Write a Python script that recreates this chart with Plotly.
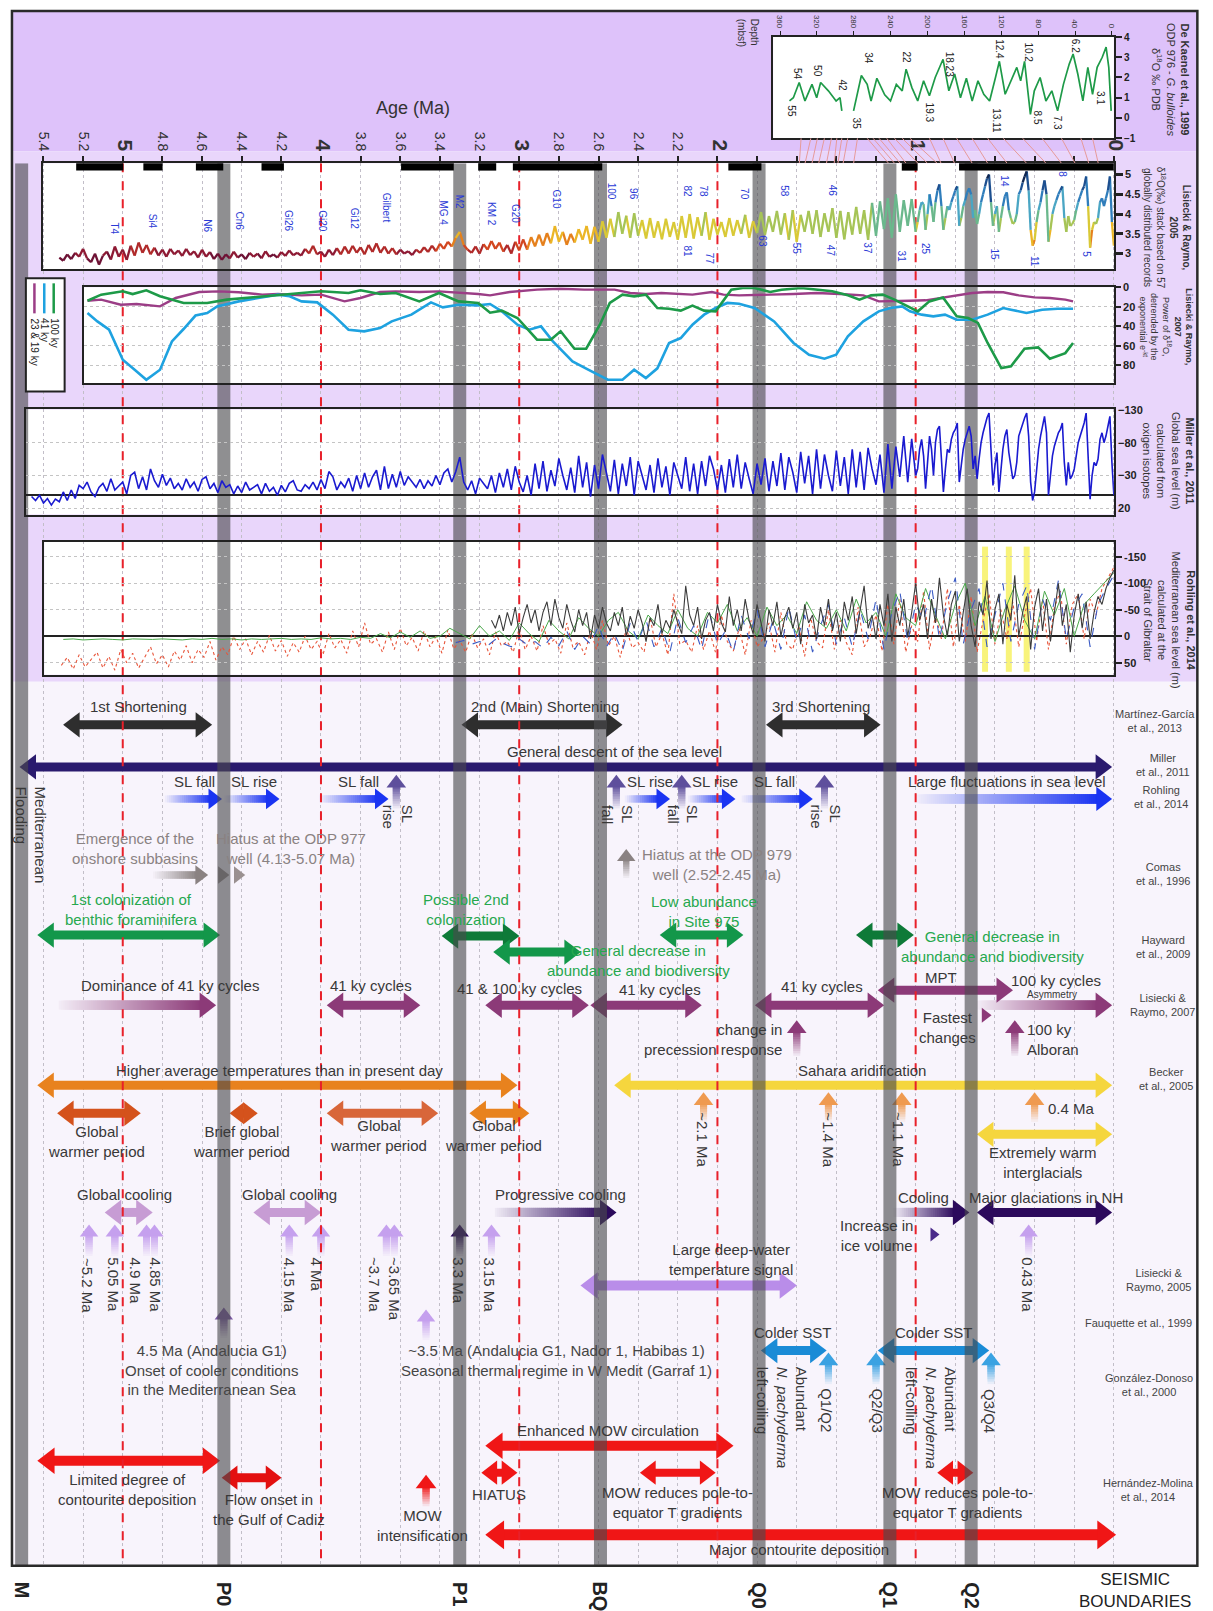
import numpy as np
import plotly.graph_objects as go

W, H = 1213, 1611
FONT = "Liberation Sans, Arial, Helvetica, sans-serif"
TXT = "#383838"

# ============================ DATA ============================
age_tick_values = [5.4, 5.2, 5.0, 4.8, 4.6, 4.4, 4.2, 4.0, 3.8, 3.6, 3.4, 3.2, 3.0,
                   2.8, 2.6, 2.4, 2.2, 2.0, 1.8, 1.6, 1.4, 1.2, 1.0, 0.8, 0.6, 0.4, 0.2, 0.0]
age_tick_labels = ["5.4", "5.2", "5", "4.8", "4.6", "4.4", "4.2", "4", "3.8", "3.6", "3.4", "3.2", "3",
                   "2.8", "2.6", "2.4", "2.2", "2", "", "", "", "", "1", "", "", "", "", "0"]
integer_ages = [5, 4, 3, 2, 1]

seismic_names = ["M", "P0", "P1", "BQD", "Q0", "Q1", "Q2"]
seismic_ages = [5.51, 4.49, 3.30, 2.59, 1.79, 1.13, 0.72]

normal_chron_start = [5.235, 4.896, 4.631, 4.300, 3.596, 3.207, 3.032, 1.945, 1.070, 0.781]
normal_chron_end = [4.997, 4.799, 4.493, 4.187, 3.330, 3.116, 2.581, 1.778, 0.990, 0.000]

# LR04 benthic d18O stack (permil)
lr04_age_a = np.arange(5.32, 0.999, -0.02)
lr04_val_a = [
    2.90, 2.82, 2.98, 2.86, 3.02, 2.92, 3.12, 2.88, 2.78, 3.00,
    2.72, 2.95, 3.05, 2.85, 3.18, 2.92, 3.10, 2.84, 3.20, 2.95,
    3.28, 3.02, 3.22, 2.98, 3.15, 2.95, 3.10, 2.92, 3.12, 2.98,
    3.08, 2.94, 3.12, 2.96, 3.06, 2.90, 3.10, 2.92, 3.04, 2.86,
    3.00, 2.84, 2.98, 2.88, 3.05, 2.90, 2.98, 2.86, 3.02, 2.92,
    3.00, 2.88, 3.06, 2.92, 2.98, 2.90, 3.04, 2.94, 3.08, 2.96,
    3.02, 2.95, 3.12, 3.00, 3.20, 2.98, 3.05, 2.92, 3.10, 2.96,
    3.14, 2.98, 3.18, 3.00, 3.20, 3.02, 3.16, 2.98, 3.22, 3.04,
    3.26, 3.02, 3.18, 3.00, 3.14, 2.98, 3.10, 3.00, 3.06, 2.96,
    3.10, 3.02, 3.16, 3.04, 3.20, 3.06, 3.25, 3.12, 3.30, 3.18,
    3.40, 3.55, 3.22, 3.10, 3.02, 3.18, 3.00, 3.24, 3.10, 3.32,
    3.12, 3.28, 3.05, 3.22, 3.00, 3.30, 3.08, 3.36, 3.10, 3.42,
    3.18, 3.48, 3.20, 3.52, 3.26, 3.70, 3.30, 3.55, 3.22, 3.50,
    3.28, 3.62, 3.35, 3.70, 3.25, 3.68, 3.30, 3.82, 3.40, 3.88,
    3.42, 4.05, 3.50, 3.96, 3.40, 4.02, 3.45, 3.85, 3.38, 3.90,
    3.40, 3.82, 3.36, 3.88, 3.42, 3.80, 3.35, 3.95, 3.40, 4.00,
    3.38, 3.92, 3.45, 4.05, 3.35, 3.88, 3.48, 3.80, 3.42, 3.90,
    3.45, 3.85, 3.50, 3.98, 3.40, 3.82, 3.52, 4.05, 3.48, 3.95,
    3.55, 4.08, 3.48, 4.02, 3.35, 4.10, 3.30, 3.98, 3.55, 4.08,
    3.50, 4.10, 3.42, 4.02, 3.55, 4.15, 3.40, 4.08, 3.36, 4.05,
    3.48, 4.18, 3.50, 4.10, 3.35, 4.28, 3.45, 4.32, 3.62, 4.40,
    3.40, 4.50, 3.55, 4.35, 3.70, 4.38, 3.55]
lr04_age_b = np.arange(0.99, -0.001, -0.01)
lr04_val_b = [
    3.80, 4.10, 4.30, 4.25, 3.60, 4.00, 4.50, 4.20, 3.80, 4.30,
    4.60, 4.75, 4.20, 3.60, 3.90, 4.20, 4.10, 4.30, 4.45, 4.60,
    4.70, 3.70, 3.90, 4.20, 4.35, 4.55, 4.65, 4.50, 3.90, 4.10,
    3.75, 4.00, 4.30, 4.50, 4.70, 4.90, 5.00, 4.30, 3.70, 4.00,
    4.20, 3.55, 3.90, 4.20, 4.45, 4.55, 4.10, 3.90, 3.75, 3.80,
    4.00, 4.50, 4.60, 4.80, 4.95, 5.08, 4.60, 3.60, 3.20, 3.35,
    3.80, 4.10, 4.30, 4.60, 4.85, 4.50, 3.30, 3.60, 4.00, 4.20,
    4.35, 4.50, 4.60, 4.70, 3.90, 3.55, 3.95, 3.70, 3.75, 3.85,
    4.10, 4.30, 4.45, 4.60, 4.70, 4.95, 4.20, 3.15, 3.60, 3.80,
    3.75, 3.90, 4.30, 4.40, 4.20, 4.40, 4.60, 4.95, 3.80, 3.20]

lr04_mis_text = ["T4", "Si4", "N6", "Cn6", "Gi26", "Gi20", "Gi12", "Gilbert", "MG 4", "M2", "KM 2", "G20", "G10",
                 "100", "96", "82", "78", "70", "58", "46", "14", "8",
                 "81", "77", "63", "55", "47", "37", "31", "25", "15", "11", "5"]
lr04_mis_age = [5.04, 4.85, 4.57, 4.41, 4.16, 3.99, 3.83, 3.67, 3.38, 3.30, 3.14, 3.02, 2.81,
                2.53, 2.42, 2.15, 2.07, 1.86, 1.66, 1.42, 0.55, 0.26,
                2.15, 2.04, 1.77, 1.60, 1.43, 1.245, 1.07, 0.95, 0.60, 0.40, 0.14]
lr04_mis_val = [3.64, 3.82, 3.69, 3.82, 3.82, 3.82, 3.89, 4.15, 4.02, 4.32, 3.99, 4.02, 4.37,
                4.58, 4.50, 4.58, 4.58, 4.50, 4.58, 4.58, 4.83, 5.00,
                3.06, 2.88, 3.31, 3.13, 3.06, 3.13, 2.93, 3.13, 2.98, 2.80, 2.98]

# Lisiecki & Raymo 2007 - spectral power
lr07_100_age = [5.178, 5.109, 5.000, 4.950, 4.881, 4.812, 4.693, 4.574, 4.475, 4.217,
                3.999, 3.861, 3.801, 3.702, 3.623, 3.504, 3.405, 3.306, 3.207, 3.147,
                3.088, 3.009, 2.910, 2.841, 2.791, 2.721, 2.662, 2.593, 2.543, 2.479,
                2.420, 2.361, 2.303, 2.244, 2.185, 2.126, 2.067, 2.009, 1.930, 1.872,
                1.813, 1.734, 1.676, 1.578, 1.499, 1.421, 1.342, 1.284, 1.225, 1.166,
                1.107, 1.049, 0.989, 0.931, 0.862, 0.793, 0.735, 0.686, 0.637, 0.568,
                0.519, 0.451, 0.382, 0.323, 0.245, 0.206]
lr07_100_val = [13.7, 7.5, 4.0, 6.9, 3.0, 9.2, 16.0, 16.0, 12.6, 8.2,
                4.0, 5.8, 3.0, 6.9, 5.8, 14.4, 5.8, 14.4, 16.0, 26.0,
                23.9, 31.4, 53.7, 53.7, 45.0, 62.9, 62.9, 38.3, 16.0, 7.5,
                9.2, 7.5, 21.2, 21.9, 23.9, 18.8, 23.9, 24.6, 2.4, 0.7,
                0.7, 4.8, 2.4, 0.7, 2.4, 4.0, 8.2, 12.6, 8.2, 7.5,
                12.6, 18.8, 24.6, 14.4, 10.3, 29.7, 31.4, 36.5, 57.0, 82.7,
                81.0, 62.9, 61.5, 73.2, 67.4, 57.0]
lr07_41_age = [5.178, 5.128, 5.069, 5.000, 4.940, 4.881, 4.812, 4.752, 4.693, 4.633,
               4.574, 4.524, 4.415, 4.316, 4.217, 4.158, 4.098, 4.019, 3.940, 3.861,
               3.782, 3.702, 3.643, 3.544, 3.445, 3.385, 3.306, 3.207, 3.147, 3.088,
               3.009, 2.949, 2.890, 2.830, 2.731, 2.652, 2.553, 2.479, 2.420, 2.361,
               2.303, 2.244, 2.185, 2.126, 2.067, 2.009, 1.950, 1.891, 1.813, 1.714,
               1.616, 1.538, 1.460, 1.401, 1.342, 1.264, 1.186, 1.127, 1.068, 1.029,
               0.970, 0.911, 0.852, 0.793, 0.715, 0.637, 0.558, 0.519, 0.441, 0.362,
               0.284, 0.206]
lr07_41_val = [26.3, 34.9, 43.4, 74.2, 84.4, 94.7, 84.4, 55.4, 42.7, 28.9,
               26.3, 19.5, 14.4, 10.9, 7.5, 9.2, 14.4, 15.4, 28.0, 43.4,
               45.1, 41.7, 34.9, 28.0, 15.4, 20.5, 17.8, 18.5, 17.1, 24.6,
               38.3, 43.4, 40.0, 55.4, 75.9, 84.4, 94.7, 94.7, 84.4, 93.0,
               83.0, 57.0, 52.0, 38.3, 28.0, 21.2, 16.0, 16.8, 21.2, 34.9,
               57.0, 69.1, 73.2, 69.1, 50.3, 34.9, 24.6, 21.2, 19.5, 24.6,
               28.0, 29.7, 28.0, 33.2, 33.2, 28.0, 21.2, 22.9, 26.3, 22.9,
               21.9, 21.9]
lr07_23_age = [5.178, 5.109, 5.010, 4.930, 4.812, 4.733, 4.614, 4.515, 4.415, 4.296,
               4.217, 4.098, 3.999, 3.881, 3.801, 3.702, 3.623, 3.504, 3.405, 3.306,
               3.207, 3.147, 3.048, 2.910, 2.791, 2.672, 2.597, 2.519, 2.440, 2.361,
               2.283, 2.205, 2.126, 2.028, 1.970, 1.891, 1.813, 1.734, 1.616, 1.499,
               1.381, 1.264, 1.186, 1.107, 1.029, 0.950, 0.872, 0.793, 0.715, 0.637,
               0.558, 0.480, 0.401, 0.323, 0.245, 0.206]
lr07_23_val = [13.7, 12.6, 17.8, 17.1, 19.5, 10.9, 4.8, 4.1, 5.1, 7.5,
               6.8, 8.2, 7.5, 14.4, 10.9, 4.8, 4.1, 4.8, 4.1, 5.1,
               6.8, 8.2, 4.8, 2.4, 1.4, 2.4, 2.4, 2.4, 5.8, 6.8,
               5.8, 6.8, 7.5, 4.8, 7.5, 8.2, 8.2, 7.5, 6.8, 5.8,
               6.8, 8.2, 14.4, 14.4, 13.7, 13.3, 10.9, 8.2, 5.8, 4.8,
               5.1, 8.2, 10.3, 10.9, 12.6, 14.4]

# Miller et al. 2011 global sea level (m)
miller_age_a = np.arange(5.46, 0.999, -0.02)
miller_val_a = [
    2, 8, 0, 12, 5, 15, 6, 10, -5, 8,
    -8, 5, -15, -10, -20, -5, 2, -12, -18, -6,
    -25, -8, -14, -20, -2, -30, -35, -10, -28, -8,
    -40, -22, -12, -32, -15, -26, -10, -18, -8, -25,
    -12, -20, -6, -24, -28, -10, -18, -4, -22, -12,
    -16, -2, -14, -4, -20, -8, -12, -16, -2, -18,
    -6, -12, 0, -15, -5, -18, -22, -8, -6, -16,
    -10, -20, -8, -24, -10, -36, -28, -8, -20, -12,
    -26, -6, -30, -10, -34, -12, -28, -38, -8, -44,
    -10, -32, -12, -36, -15, -28, -20, -12, -24, -10,
    -22, -14, -30, -16, -34, -40, -20, -36, -58, -20,
    -8, -22, -2, -26, -18, -10, -30, -4, -34, -12,
    -40, -8, -44, -20, -5, -30, 0, -48, -10, -52,
    -6, -38, -14, -56, -30, -8, -42, -4, -60, -12,
    -50, 2, -46, -10, -62, -35, -6, -54, -2, -48,
    -14, -58, 0, -52, -28, -8, -46, -4, -56, -12,
    -44, 0, -50, -30, -10, -58, -6, -48, -2, -52,
    -14, -60, -40, -8, -46, -4, -55, -12, -62, -10,
    -50, -25, -2, -48, -16, -56, -6, -52, -14, -64,
    -8, -58, -35, -4, -66, -18, -60, -2, -70, -10,
    -62, -30, -6, -68, -14, -58, -2, -70, -12, -66,
    -8, -72, -40, -16, -62, -4, -78, -10, -74, -28,
    -90, -20, -86, -30]
miller_age_b = np.arange(0.99, -0.001, -0.01)
miller_val_b = [
    -40, -70, -85, -60, -10, -50, -90, -70, -30, -80,
    -100, -105, -60, -5, -40, -70, -65, -85, -95, -100,
    -110, -20, -45, -70, -85, -95, -105, -90, -40, -60,
    -25, -55, -80, -95, -108, -118, -125, -70, -15, -45,
    -65, -5, -40, -70, -90, -100, -65, -45, -25, -30,
    -50, -90, -100, -110, -118, -125, -90, -20, 8, -5,
    -45, -70, -90, -108, -120, -95, 0, -30, -60, -75,
    -85, -95, -100, -110, -50, -15, -50, -25, -30, -40,
    -60, -80, -90, -100, -110, -125, -60, 6, -30, -50,
    -45, -55, -85, -95, -80, -90, -105, -120, -50, 0]

# Rohling et al. 2014 Mediterranean sea level (m)
roh_red_age = np.arange(5.31, -0.001, -0.03)
roh_red_val = [
    55, 40, 62, 35, 58, 45, 30, 60, 38, 64,
    25, 50, 32, 60, 40, 20, 52, 35, 58, 28,
    45, 18, 50, 25, 40, 10, 45, 20, 35, 0,
    25, 5, 35, 10, 30, -2, 28, 8, 38, 12,
    30, 0, 25, 10, 35, -5, 22, 6, 32, -10,
    20, -25, 15, 5, 30, -8, 25, -15, 18, 2,
    28, -10, 20, 0, 32, -12, 24, 8, 30, -5,
    22, 5, 35, -8, 18, 10, 30, -15, 25, 0,
    28, -20, 15, 5, 32, -25, 20, 10, 35, -10,
    25, -30, 18, 0, 40, -15, 22, 12, 30, -35,
    20, -5, 35, -80, 15, 8, 30, -20, 25, -10,
    30, -40, 10, 28, -15, 35, -30, 20, 5, -25,
    30, -45, 15, 25, -20, 38, -35, 10, 22, -50,
    25, -30, 12, 35, -55, 20, 0, -40, 28, -60,
    15, -70, 30, -20, 10, -85, 25, -40, 5, -90,
    20, -60, 10, -75, 30, -30, -80, 15, -50, 5,
    -65, 20, -40, -90, 10, -70, 25, -55, -85, 15,
    -60, -80, 5, -70, -40, -90, -110, -130]
roh_black_age = np.arange(3.14, -0.001, -0.02)
roh_black_val = [
    -30, -15, -40, -10, -45, -20, -55, -5, -35, -60,
    -25, -50, -10, -45, -65, -20, -70, -35, -15, -60,
    -30, -8, -50, -20, -45, 5, -40, -15, -55, -25,
    -10, -45, -20, -55, 0, -38, -15, -50, -25, 10,
    -35, -20, -60, -5, -30, -15, -50, -25, -5, -95,
    -40, -20, -55, 5, -30, -45, -10, -60, -25, -8,
    -75, -20, -50, -10, -70, -30, -5, -60, -25, 10,
    -50, -20, -65, 0, -35, -55, -15, -45, 15, -60,
    -25, -40, 5, -55, -20, -70, -10, -45, 10, -65,
    -30, -75, -5, -50, -95, -15, -40, 5, -60, -20,
    -80, 10, -55, -20, -70, 0, -45, -100, -30, -60,
    5, -70, -25, -110, -40, 0, -60, -85, 10, -45,
    -90, -20, 20, -65, -40, -105, 5, -50, -80, 15,
    -60, -30, -115, 0, -45, -75, 25, -55, -90, -10,
    -70, 10, -50, -100, -20, -60, 30, -40, -80, -15,
    -65, 5, -45, -75, -60, -90, -110, -125]
roh_blue_age = np.arange(3.32, -0.001, -0.04)
roh_blue_val = [
    12, 8, 15, 10, 18, 6, 14, 20, 5, 16,
    10, 22, 2, 18, -10, 25, 0, 15, -20, 20,
    -5, 28, -25, 10, -30, 20, -15, 30, -35, 12,
    -20, 25, -45, 15, -10, 30, -40, 5, -50, 20,
    -30, 25, -55, 10, -40, 30, -20, -60, 15, -35,
    20, -50, 5, -70, 25, -45, -85, 10, -60, -30,
    -95, 5, -65, -110, 15, -50, -90, 20, -40, -100,
    10, -60, -95, 25, -70, -30, -105, 5, -55, -80,
    20, -60, -90, -115]
roh_green_age = np.arange(5.30, -0.001, -0.05)
roh_green_val = [
    6, 5, 7, 6, 5, 6, 7, 5, 6, 6,
    5, 6, 7, 5, 6, 4, 6, 5, 7, 5,
    6, 5, 4, 6, 5, 6, 3, 5, 4, 6,
    2, 4, -5, 3, -8, 2, -10, 4, 0, -15,
    -5, 5, -20, 0, -10, 8, -25, -5, 10, -30,
    -10, 5, -35, -15, 0, -30, -45, -10, 5, -40,
    -20, -5, -50, -15, 0, -45, -25, -60, -10, -35,
    0, -55, -20, -40, -5, -65, -30, -15, -50, -10,
    -70, -25, -45, 0, -80, -35, -20, -90, -40, 5,
    -60, -100, -20, -75, 10, -50, -95, -30, 5, -85,
    -40, -90, 0, -60, -80, -100, -120]
roh_glacial_ages = [0.65, 0.53, 0.44]

# De Kaenel et al. 1999, ODP 976 G. bulloides d18O vs depth (mbsf)
dk_depth = [349.8, 345.6, 339.3, 333.0, 325.4, 320.3, 316.0, 307.6, 299.2, 295.0,
            293.0, None, 280.3, 271.8, 265.5, 261.3, 255.0, 246.5, 240.2, 233.9,
            227.5, 223.3, 217.0, 210.7, 204.3, 198.0, 191.7, 183.2, 176.9, 170.6,
            164.3, 157.9, 151.6, 145.3, 139.0, 132.7, 126.3, 122.1, 115.8, 109.5,
            103.2, 99.0, 94.8, 88.4, 84.2, 77.9, 71.6, 65.2, 58.9, 52.6,
            46.3, 42.1, 37.0, 31.5, 26.1, 21.0, 16.0, 10.5, 6.3, 3.4, 0.8]
dk_val = [0.84, 1.0, 1.75, 0.84, 1.66, 1.0, 1.75, 1.34, 0.84, 1.0,
          0.35, None, 0.35, 2.1, 1.66, 0.84, 1.96, 1.14, 0.84, 1.66,
          1.34, 2.41, 1.5, 0.84, 1.84, 1.1, 2.0, 2.9, 1.34, 2.17,
          1.0, 1.96, 0.84, 1.84, 1.17, 0.84, 2.0, 2.8, 1.17, 1.84,
          2.5, 1.84, 2.8, 0.18, 1.34, 2.0, 0.84, 1.34, 0.35, 1.66,
          2.66, 3.16, 2.17, 0.84, 2.5, 1.17, 2.5, 3.0, 3.5, 2.5, 0.35]
dk_label_text = ["54", "55", "50", "42", "35", "34", "22", "19.3", "18.23", "13.11", "12.4", "10.2", "8.5", "7.3", "6.2", "3.1"]
dk_label_depth = [341.7, 347.6, 319.2, 292.3, 277.2, 265.0, 222.9, 198.1, 176.5, 126.1, 121.8, 90.6, 80.9, 59.3, 39.9, 12.9]
dk_label_val = [2.18, 0.35, 2.33, 1.58, -0.30, 2.97, 2.97, 0.25, 2.67, -0.15, 3.42, 3.22, 0.0, -0.25, 3.56, 0.99]
tie_depth = [337.2, 326.6, 319.5, 311.9, 304.3, 298.4, 293.0, 286.6, 276.0, 265.6, 259.2, 252.8, 244.4, 236.0,
             227.6, 219.2, 198.0, 183.3, 168.5, 151.7, 134.9, 118.0, 96.9, 75.8, 54.8, 33.7, 21.0]
tie_age = [1.587, 1.558, 1.523, 1.489, 1.450, 1.411, 1.392, 1.366, 1.313, 1.137, 1.107, 1.078, 1.049, 0.989,
           0.941, 0.892, 0.872, 0.804, 0.715, 0.637, 0.539, 0.441, 0.343, 0.265, 0.196, 0.127, 0.079]

# ---- Events (ages in Ma: older, younger) ----
shortening = [(5.30, 4.55), (3.29, 2.48), (1.754, 1.178)]
shortening_text = ["1st Shortening", "2nd (Main) Shortening", "3rd Shortening"]
sea_descent = (5.52, 0.01)
sl_arrows = [(4.77, 4.50), (4.47, 4.21), (3.99, 3.66), (2.45, 2.24), (2.13, 1.91), (1.86, 1.52), (0.97, 0.01)]
sl_text = ["SL fall", "SL rise", "SL fall", "SL rise", "SL rise", "SL fall", "Large fluctuations in sea level"]
sl_points = [3.62, 2.51, 2.18, 1.46]
sl_point_text = ["SL<br>rise", "SL<br>fall", "SL<br>fall", "SL<br>rise"]
comas_emergence = (4.83, 4.57)
comas_hiatus977 = [4.50, 4.42]
comas_hiatus979 = 2.46
hayward_arrows = [(5.43, 4.51), (3.39, 3.00), (3.13, 2.69), (2.29, 1.87), (1.30, 1.01)]
lr07_cycle_arrows = [(3.97, 3.50), (3.17, 2.65), (2.64, 2.08), (1.81, 1.16)]
lr07_fade_arrows = [(5.30, 4.53), (0.67, 0.01)]
mpt = (1.19, 0.51)
lr07_points = [1.60, 0.50]
becker_warm = (5.43, 3.01)
becker_sahara = (2.52, 0.01)
becker_points = [2.07, 1.44, 1.07, 0.40]
warm_periods = [(5.33, 4.91), (4.46, 4.32), (3.97, 3.41), (3.25, 2.95)]
warm_interglacials = (0.69, 0.01)
global_cooling = [(5.09, 4.85), (4.34, 4.00)]
progressive_cooling = [(3.10, 2.51), (1.09, 0.73)]
major_glaciations = (0.69, 0.01)
cooling_points = [5.17, 5.04, 4.88, 4.84, 4.16, 4.00, 3.67, 3.63, 3.30, 3.14, 0.43]
deep_water = (2.69, 1.60)
fauquette_points = [4.49, 3.47]
colder_sst = [(1.78, 1.45), (1.19, 0.63)]
sst_points = [1.44, 1.20, 0.62]
mow_enhanced = (3.17, 1.92)
contourite_limited = (5.43, 4.51)
flow_onset = (4.50, 4.20)
mow_intensification = 3.47
hiatus = (3.19, 3.01)
mow_reduces = [(2.39, 2.01), (0.89, 0.71)]
major_contourite = (3.17, -0.01)

# ============================ GEOMETRY (layout) ============================
# Layout positions below are given in target-image pixels; SX/OX, SY/OY convert them to figure pixels.
SX, OX = 0.989, 4.0
SY, OY = 0.992, 5.0
PXMA_REF = 199.5        # target-image pixels per Ma
AGE_AT_PX0 = 5.604      # age at target-image x = 0
PXMA_FIG = PXMA_REF / SX


def px2age(px):
    return AGE_AT_PX0 - px / PXMA_REF


def PX(x):
    return ((x - OX) / SX) / W


def PY(y):
    return 1 - ((y - OY) / SY) / H


def xdom(x0, x1):
    return [max(PX(x0), 0.0), min(PX(x1), 1.0)]


def ydom(y0, y1):
    return [max(PY(y1), 0.0), min(PY(y0), 1.0)]


MASTER_XR = [px2age(OX), px2age(OX + SX * W)]
BOX_LR05 = (40, 162, 1118, 268)
BOX_LR07 = (81, 286, 1118, 382)
BOX_MIL = (23, 408, 1118, 513)
BOX_ROH = (41.5, 540, 1118, 673)
BOX_DK = (775, 36, 1118, 137)
MASTER_Y = (162, 1563)
DK_RANGE = [367.6, -2.15]
FRAME = (9, 10, 1202, 1563)
BG_EV = "#f7f3fb"

fig = go.Figure()


def add(tr):
    fig.add_trace(tr)


def sc(x, y, ax="", **kw):
    kw.setdefault("hoverinfo", "skip")
    kw.setdefault("showlegend", False)
    return go.Scatter(x=list(x), y=list(y), xaxis="x" + ax, yaxis="y" + ax, **kw)


def hexrgb(h):
    h = h.lstrip("#")
    return tuple(int(h[i:i + 2], 16) for i in (0, 2, 4))


def blend(c, bg, t):
    a, b = hexrgb(c), hexrgb(bg)
    return "rgb(%d,%d,%d)" % tuple(round(b[i] + (a[i] - b[i]) * t) for i in range(3))


def harrow(a0, a1, y, color, lw=9, head=21, left=True, right=True, fade=False):
    r = head / 2.0 / PXMA_FIG
    xl = a0 - r if left else a0
    xr = a1 + r if right else a1
    if fade:
        n = max(int(abs(a0 - xr) * PXMA_FIG / 2.0), 3)
        xs = np.linspace(a0, xr, n)
        cols = [blend(color, BG_EV, t) for t in np.linspace(0.04, 1.0, n)]
        add(sc(xs, [y] * n, mode="markers", marker=dict(symbol="square", size=lw, color=cols, line=dict(width=0))))
    else:
        add(sc([xl, xr], [y, y], mode="lines", line=dict(color=color, width=lw)))
    hx, hs = [], []
    if left:
        hx.append(xl)
        hs.append("triangle-left")
    if right:
        hx.append(xr)
        hs.append("triangle-right")
    add(sc(hx, [y] * len(hx), mode="markers", marker=dict(symbol=hs, size=head, color=color, line=dict(width=0))))


def varrow(age, y_tip, y_base, color, lw=7, head=16):
    r = head / 2.0 * SY
    yc = y_tip + r
    n = max(int(abs(y_base - yc) / 2.0), 3)
    ys = np.linspace(y_base, yc, n)
    cols = [blend(color, BG_EV, t) for t in np.linspace(0.08, 1.0, n)]
    add(sc([age] * n, ys, mode="markers", marker=dict(symbol="square", size=lw, color=cols, line=dict(width=0))))
    add(sc([age], [yc], mode="markers", marker=dict(symbol="triangle-up", size=head, color=color, line=dict(width=0))))


def head_only(age, y, color, size, symbol="triangle-right"):
    add(sc([age], [y], mode="markers", marker=dict(symbol=symbol, size=size, color=color, line=dict(width=0))))


ann = []


def T(x, y, s, size=15, color=TXT, angle=0, xa="center", ya="middle", align="center", xref="x", yref="y"):
    ann.append(dict(x=x, y=y, xref=xref, yref=yref, text=s, showarrow=False, textangle=angle,
                    xanchor=xa, yanchor=ya, align=align,
                    font=dict(family=FONT, size=size, color=color)))


# ============================ EVENTS (master axis) ============================
C_BLACK, C_NAVY, C_BLUE, C_SLUP = "#2e2e2e", "#2a1a6e", "#1a34f2", "#5e4f9c"
C_GRAY, C_GREEN, C_GREEN_D, T_GREEN = "#8a8282", "#13974a", "#0e7a38", "#26a84e"
C_PURPLE, C_ORANGE, C_YELLOW, C_ORUP = "#8c3a78", "#e8821e", "#f5d63e", "#ef9a50"
C_WARM, C_LILAC, C_DKP, C_LUP = "#d4521c", "#c79cd4", "#2c0a5c", "#c5a0ee"
C_DEEP, C_SST, C_RED = "#b98de9", "#1a8bd6", "#f01616"

# Martinez-Garcia shortening
for (a0, a1), s in zip(shortening, shortening_text):
    harrow(a0, a1, 723, C_BLACK, lw=9, head=22)
T(4.92, 705, shortening_text[0])
T(2.87, 705, shortening_text[1])
T(1.48, 705, shortening_text[2])

# Miller: general descent
harrow(sea_descent[0], sea_descent[1], 765, C_NAVY, lw=9, head=22)
T(2.52, 750, "General descent of the sea level")

# Rohling: SL arrows
sl_label_age = [4.64, 4.34, 3.81, 2.34, 2.01, 1.71, 0.54]
for (a0, a1), s, la in zip(sl_arrows, sl_text, sl_label_age):
    big = s.startswith("Large")
    harrow(a0, a1, 797, C_BLUE, lw=9 if big else 7, head=21 if big else 18, left=False, fade=True)
    T(la, 780, s)
for a, s in zip(sl_points, sl_point_text):
    varrow(a, 773, 803, C_SLUP, lw=7, head=17)
    T(a - 0.005, 801, s, angle=90, ya="top", align="left")

T(px2age(28), 783, "Mediterranean<br>Flooding", angle=90, ya="top", align="left")

# Comas
T(4.94, 847, "Emergence of the<br>onshore subbasins", color=C_GRAY)
T(4.15, 847, "Hiatus at the ODP 977<br>well (4.13-5.07 Ma)", color=C_GRAY)
harrow(comas_emergence[0], comas_emergence[1], 873, C_GRAY, lw=7, head=17, left=False, fade=True)
for a in comas_hiatus977:
    head_only(a, 873, "#9a9090", 15)
varrow(comas_hiatus979, 847, 873, C_GRAY, lw=6, head=16)
T(2.00, 862, "Hiatus at the ODP 979<br>well (2.52-2.45 Ma)", color=C_GRAY)

# Hayward
hay_y = [933, 934, 950, 933, 933]
hay_c = [C_GREEN, C_GREEN_D, C_GREEN, C_GREEN, C_GREEN_D]
for (a0, a1), yy, cc in zip(hayward_arrows, hay_y, hay_c):
    harrow(a0, a1, yy, cc, lw=9, head=22)
T(4.96, 907, "1st colonization of<br>benthic foraminifera", color=T_GREEN)
T(3.27, 907, "Possible 2nd<br>colonization", color=T_GREEN)
T(2.40, 958, "General decrease in<br>abundance and biodiversity", color=T_GREEN)
T(2.07, 909, "Low abundance<br>in Site 975", color=T_GREEN)
T(0.61, 944, "General decrease in<br>abundance and biodiversity", color=T_GREEN)

# Lisiecki & Raymo 2007
for a0, a1 in lr07_fade_arrows:
    harrow(a0, a1, 1003, C_PURPLE, lw=9, head=22, left=False, fade=True)
for a0, a1 in lr07_cycle_arrows:
    harrow(a0, a1, 1003, C_PURPLE, lw=9, head=22)
harrow(mpt[0], mpt[1], 988, C_PURPLE, lw=9, head=22)
head_only(0.65, 1013, C_PURPLE, 13)
for a in lr07_points:
    varrow(a, 1018, 1050, C_PURPLE, lw=7, head=17)
T(4.76, 983, "Dominance of 41 ky cycles")
T(3.75, 983, "41 ky cycles")
T(3.00, 986, "41 & 100 ky cycles")
T(2.29, 987, "41 ky cycles")
T(1.47, 984, "41 ky cycles")
T(0.87, 975, "MPT")
T(0.29, 978, "100 ky cycles")
T(0.31, 992, "Asymmetry", size=10)
T(0.84, 1025, "Fastest<br>changes")
T(1.665, 1037, "change in<br>precession response", xa="right", align="right")
T(0.45, 1037, "100 ky<br>Alboran", xa="left", align="left")

# Becker
harrow(becker_warm[0], becker_warm[1], 1083, C_ORANGE, lw=9, head=22)
harrow(becker_sahara[0], becker_sahara[1], 1083, C_YELLOW, lw=9, head=22)
T(4.21, 1068, "Higher average temperatures than in present day")
T(1.27, 1068, "Sahara aridification")
for a in becker_points:
    varrow(a, 1090, 1116, C_ORUP, lw=7, head=17)
T(2.075, 1108, "~2.1 Ma", angle=90, ya="top")
T(1.44, 1108, "~1.4 Ma", angle=90, ya="top")
T(1.09, 1108, "~1.1 Ma", angle=90, ya="top")
T(0.345, 1106, "0.4 Ma", xa="left")

# Warm periods
warm_c = [C_WARM, C_WARM, "#d8663a", C_ORANGE]
warm_h = [22, 19, 22, 22]
for (a0, a1), cc, hh in zip(warm_periods, warm_c, warm_h):
    harrow(a0, a1, 1111, cc, lw=9, head=hh)
harrow(warm_interglacials[0], warm_interglacials[1], 1132, C_YELLOW, lw=9, head=22)
T(5.13, 1139, "Global<br>warmer period")
T(4.40, 1139, "Brief global<br>warmer period")
T(3.71, 1133, "Global<br>warmer period")
T(3.13, 1133, "Global<br>warmer period")
T(0.36, 1160, "Extremely warm<br>interglacials")

# Cooling (Lisiecki & Raymo 2005)
for a0, a1 in global_cooling:
    harrow(a0, a1, 1210, C_LILAC, lw=9, head=22)
for a0, a1 in progressive_cooling:
    harrow(a0, a1, 1210, C_DKP, lw=9, head=22, left=False, fade=True)
harrow(major_glaciations[0], major_glaciations[1], 1210, C_DKP, lw=9, head=22)
head_only(0.91, 1232, "#4a2a8a", 12)
for a in cooling_points:
    varrow(a, 1222, 1250, C_DKP if abs(a - 3.30) < 1e-6 else C_LUP, lw=7, head=16)
T(4.99, 1192, "Global cooling")
T(4.16, 1192, "Global cooling")
T(2.79, 1192, "Progressive cooling")
T(0.96, 1195, "Cooling")
T(0.34, 1195, "Major glaciations in NH")
T(1.20, 1233, "Increase in<br>ice volume")
ma_text = ["~5.2 Ma", "5.05 Ma", "4.85 Ma<br>4.9 Ma", "4.15 Ma", "4 Ma", "~3.65 Ma<br>~3.7 Ma", "3.3 Ma", "3.15 Ma", "0.43 Ma"]
ma_age = [5.18, 5.05, 4.89, 4.16, 4.02, 3.68, 3.31, 3.15, 0.44]
for s, a in zip(ma_text, ma_age):
    T(a, 1253, s, angle=90, ya="top", align="left")
harrow(deep_water[0], deep_water[1], 1283, C_DEEP, lw=10, head=23)
T(1.93, 1257, "Large deep-water<br>temperature signal")

# Fauquette
varrow(fauquette_points[0], 1305, 1332, "#7c5aa6", lw=7, head=16)
varrow(fauquette_points[1], 1307, 1334, C_LUP, lw=7, head=16)
T(4.55, 1367, "4.5 Ma (Andalucia G1)<br>Onset of cooler conditions<br>in the Mediterranean Sea", color="#454545")
T(2.81, 1358, "~3.5 Ma (Andalucia G1, Nador 1, Habibas 1)<br>Seasonal thermal regime in W Medit (Garraf 1)", color="#454545")

# Gonzalez-Donoso
for a0, a1 in colder_sst:
    harrow(a0, a1, 1348, C_SST, lw=9, head=22)
for a in sst_points:
    varrow(a, 1350, 1378, "#3aa2e2", lw=7, head=17)
T(1.62, 1330, "Colder SST")
T(0.91, 1330, "Colder SST")
T(1.45, 1384, "Q1/Q2", angle=90, ya="top")
T(1.195, 1384, "Q2/Q3", angle=90, ya="top")
T(0.627, 1384, "Q3/Q4", angle=90, ya="top")
T(1.67, 1362, "Abundant<br><i>N. pachyderma</i><br>left-coiling", angle=90, ya="top", align="left")
T(0.92, 1362, "Abundant<br><i>N. pachyderma</i><br>left-coiling", angle=90, ya="top", align="left")

# Hernandez-Molina
harrow(mow_enhanced[0], mow_enhanced[1], 1443, C_RED, lw=10, head=23)
harrow(contourite_limited[0], contourite_limited[1], 1458, C_RED, lw=10, head=23)
harrow(flow_onset[0], flow_onset[1], 1475, "#e31010", lw=9, head=21)
varrow(mow_intensification, 1472, 1500, C_RED, lw=7, head=18)
harrow(hiatus[0], hiatus[1], 1470, C_RED, lw=8, head=21)
for a0, a1 in mow_reduces:
    harrow(a0, a1, 1470, C_RED, lw=8, head=21)
harrow(major_contourite[0], major_contourite[1], 1532, C_RED, lw=11, head=25)
T(2.55, 1428, "Enhanced MOW circulation")
T(4.98, 1487, "Limited degree of<br>contourite deposition")
T(4.26, 1507, "Flow onset in<br>the Gulf of Cadiz")
T(3.49, 1523, "MOW<br>intensification")
T(3.10, 1492, "HIATUS")
T(2.20, 1500, "MOW reduces pole-to-<br>equator T gradients")
T(0.79, 1500, "MOW reduces pole-to-<br>equator T gradients")
T(1.59, 1547, "Major contourite deposition")

# ---- vertical reference elements (drawn over events) ----
for a in roh_glacial_ages:
    add(sc([a, a], [545, 670], mode="lines", line=dict(color="rgba(246,240,90,0.8)", width=6)))
gx, gy = [], []
for a in seismic_ages:
    gx += [a, a, None]
    gy += [MASTER_Y[0], MASTER_Y[1], None]
add(sc(gx, gy, mode="lines", line=dict(color="rgba(75,75,78,0.62)", width=13)))
rx, ry = [], []
for a in integer_ages:
    rx += [a, a, None]
    ry += [MASTER_Y[0], MASTER_Y[1], None]
add(sc(rx, ry, mode="lines", line=dict(color="#e8202a", width=2, dash="dash")))

# ============================ PANELS ============================
# LR04 colored by value
lr04_age = [float(v) for v in lr04_age_a[:len(lr04_val_a)]] + [float(v) for v in lr04_age_b[:len(lr04_val_b)]]
lr04_val = lr04_val_a[:len(lr04_age_a)] + lr04_val_b[:len(lr04_age_b)]
bins = [2.95, 3.05, 3.15, 3.25, 3.4, 3.55, 3.7, 3.85, 4.05, 4.3, 4.6, 4.85]
bin_cols = ["#6e1235", "#8e1a34", "#b02a2a", "#d2461f", "#e5801c", "#ebb626", "#d9c936",
            "#a6c456", "#6ab88c", "#4aa6c4", "#2f7dbb", "#1d4f8f", "#10264f"]
segs = [([], []) for _ in bin_cols]
for i in range(len(lr04_age) - 1):
    k = int(np.searchsorted(bins, 0.5 * (lr04_val[i] + lr04_val[i + 1])))
    segs[k][0].extend([lr04_age[i], lr04_age[i + 1], None])
    segs[k][1].extend([lr04_val[i], lr04_val[i + 1], None])
for (sx, sy), c in zip(segs, bin_cols):
    if sx:
        add(sc(sx, sy, "2", mode="lines", line=dict(color=c, width=2.3)))
for s, a, v in zip(lr04_mis_text, lr04_mis_age, lr04_mis_val):
    T(a, v, s, size=10, color="#2a3ad6", angle=90, xref="x2", yref="y2")

# LR07
add(sc(lr07_23_age, lr07_23_val, "3", mode="lines", line=dict(color="#9b3d86", width=2.4)))
add(sc(lr07_41_age, lr07_41_val, "3", mode="lines", line=dict(color="#1ea2e0", width=2.6)))
add(sc(lr07_100_age, lr07_100_val, "3", mode="lines", line=dict(color="#1d9a48", width=2.6)))

# Miller
m_age = [float(v) for v in miller_age_a[:len(miller_val_a)]] + [float(v) for v in miller_age_b[:len(miller_val_b)]]
m_val = miller_val_a[:len(miller_age_a)] + miller_val_b[:len(miller_age_b)]
add(sc(m_age, m_val, "4", mode="lines", line=dict(color="#1a1ad0", width=1.6)))


def trim(a, v):
    n = min(len(a), len(v))
    return [float(x) for x in a[:n]], v[:n]


ra, rv = trim(roh_red_age, roh_red_val)
add(sc(ra, rv, "5", mode="lines", line=dict(color="#e8553a", width=1.1, dash="dot")))
ga, gv = trim(roh_green_age, roh_green_val)
add(sc(ga, gv, "5", mode="lines", line=dict(color="#4aa84a", width=1)))
ba, bv = trim(roh_blue_age, roh_blue_val)
add(sc(ba, bv, "5", mode="lines", line=dict(color="#3b5bc4", width=1.1, dash="dash")))
ka, kv = trim(roh_black_age, roh_black_val)
add(sc(ka, kv, "5", mode="lines", line=dict(color="#3c3c3c", width=1.1)))

# De Kaenel
add(sc(dk_depth, dk_val, "6", mode="lines", line=dict(color="#1e9a48", width=1.7), connectgaps=False))
for s, d, v in zip(dk_label_text, dk_label_depth, dk_label_val):
    T(d, v, s, size=10, color="#222", angle=90, xref="x6", yref="y6")


# Tie lines from ODP 976 depths to ages
def depth_to_master_age(d):
    xpx = BOX_DK[0] + (d - DK_RANGE[0]) / (DK_RANGE[1] - DK_RANGE[0]) * (BOX_DK[2] - BOX_DK[0])
    return px2age(xpx)


tx, ty = [], []
for d, a in zip(tie_depth, tie_age):
    tx += [depth_to_master_age(d), a, None]
    ty += [1, 0, None]
add(sc(tx, ty, "7", mode="lines", line=dict(color="#e69a9a", width=1)))

# ============================ SHAPES ============================
shapes = []


def prect(x0, y0, x1, y1, fill=None, line=None, lw=0, layer="below"):
    shapes.append(dict(type="rect", xref="paper", yref="paper", x0=PX(x0), x1=PX(x1), y0=PY(y1), y1=PY(y0),
                       fillcolor=fill if fill else "rgba(0,0,0,0)",
                       line=dict(color=line if line else "rgba(0,0,0,0)", width=lw), layer=layer))


fx0, fy0, fx1, fy1 = FRAME
prect(fx0, fy0, fx1, 150, fill="rgb(222,194,250)")
prect(fx0, 150, fx1, 680, fill="rgb(233,214,251)")
prect(fx0, 680, fx1, fy1, fill="rgb(248,244,252)")
for b in (BOX_LR05, BOX_LR07, BOX_MIL, BOX_ROH, BOX_DK):
    prect(b[0], b[1], b[2], b[3], fill="white")
# legend box for LR07
prect(23, 277, 62, 390, fill="white", line="#222", lw=2, layer="above")
for xx, cc, s in [(51, "#1d9a48", "100 ky"), (41.5, "#1ea2e0", "41 ky"), (31.6, "#9b3d86", "23 & 19 ky")]:
    shapes.append(dict(type="line", xref="paper", yref="paper", x0=PX(xx), x1=PX(xx), y0=PY(282), y1=PY(312),
                       line=dict(color=cc, width=2.5), layer="above"))
    T(PX(xx), PY(315), s, size=10, color="#222", angle=90, ya="top", xref="paper", yref="paper")
# polarity
for s0, s1 in zip(normal_chron_start, normal_chron_end):
    shapes.append(dict(type="rect", xref="x2", yref="y2 domain", x0=s0, x1=s1, y0=0.93, y1=1.0,
                       fillcolor="black", line=dict(width=0), layer="above"))
# outer frame
prect(fx0, fy0, fx1, fy1, line="#2a2a2a", lw=2.5, layer="above")

# ============================ TEXT (labels) ============================
T(PX(413), PY(107), "Age (Ma)", size=18, color="#333", xref="paper", yref="paper")
T(PX(750), PY(16), "Depth<br>(mbsf)", size=10, color="#333", angle=90, ya="top", align="left", xref="paper", yref="paper")

T(PX(1175), PY(20), "<b>De Kaenel et al., 1999</b><br>ODP 976 - <i>G. bulloides</i><br>δ<sup>18</sup>O ‰ PDB",
  size=11, color="#333", angle=90, ya="top", xref="paper", yref="paper")
T(PX(1171), PY(163), "<b>Lisiecki & Raymo,</b><br><b>2005</b><br>δ<sup>18</sup>O(‰) stack based on 57<br>globally distributed records",
  size=10, color="#333", angle=90, ya="top", xref="paper", yref="paper")
T(PX(1170), PY(285), "<b>Lisiecki & Raymo,</b><br><b>2007</b><br>Power of δ<sup>18</sup>O,<br>detrended by the<br>exponential e<sup>-kt</sup>",
  size=9, color="#333", angle=90, ya="top", xref="paper", yref="paper")
T(PX(1173), PY(408), "<b>Miller et al., 2011</b><br>Global sea level (m)<br>calculated from<br>oxigen isotopes",
  size=11, color="#333", angle=90, ya="top", xref="paper", yref="paper")
T(PX(1174), PY(548), "<b>Rohling et al., 2014</b><br>Mediterranean sea level (m)<br>calculated at the<br>Strait of Gibraltar",
  size=11, color="#333", angle=90, ya="top", xref="paper", yref="paper")

refs = [("Martínez-García<br>et al., 2013", 1159, 719), ("Miller<br>et al., 2011", 1167, 763),
        ("Rohling<br>et al., 2014", 1165, 795), ("Comas<br>et al., 1996", 1167, 872),
        ("Hayward<br>et al., 2009", 1167, 945), ("Lisiecki &<br>Raymo, 2007", 1167, 1003),
        ("Becker<br>et al., 2005", 1170, 1077), ("Lisiecki &<br>Raymo, 2005", 1163, 1277),
        ("Fauquette et al., 1999", 1143, 1320), ("González-Donoso<br>et al., 2000", 1153, 1382),
        ("Hernández-Molina<br>et al., 2014", 1153, 1487)]
for s, x, y in refs:
    T(PX(x), PY(y), s, size=11, color="#444", xref="paper", yref="paper")

for nm, a in zip(seismic_names, seismic_ages):
    T(a, PY(1577), "<b>" + nm + "</b>", size=20, color="#222", angle=90, ya="top", yref="paper")
T(PX(1139), PY(1588), "SEISMIC<br>BOUNDARIES", size=17, color="#222", xref="paper", yref="paper")

# ============================ AXES ============================
ticktext = []
for lbl, v in zip(age_tick_labels, age_tick_values):
    if lbl and float(v).is_integer():
        ticktext.append("<b><span style='font-size:21px'>" + lbl + "</span></b>")
    else:
        ticktext.append(lbl)

box_line = dict(showline=True, mirror=True, linecolor="#222", linewidth=2, zeroline=False, showgrid=False)
yfont = dict(family=FONT, size=11, color="#222", weight="bold")

layout = dict(
    width=W, height=H, margin=dict(l=0, r=0, t=0, b=0),
    paper_bgcolor="white", plot_bgcolor="rgba(0,0,0,0)", showlegend=False, hovermode=False,
    font=dict(family=FONT, color=TXT),
    xaxis=dict(domain=[0, 1], range=MASTER_XR, anchor="y", tickmode="array",
               tickvals=age_tick_values, showticklabels=False, ticks="", showgrid=True,
               gridcolor="#c2bec8", griddash="dot", gridwidth=1, zeroline=False, showline=False),
    yaxis=dict(domain=ydom(*MASTER_Y), range=[MASTER_Y[1], MASTER_Y[0]], anchor="x", visible=False),
    xaxis2=dict(domain=xdom(BOX_LR05[0], BOX_LR05[2]), range=[px2age(BOX_LR05[0]), px2age(BOX_LR05[2])],
                anchor="y2", side="top", tickmode="array", tickvals=age_tick_values, ticktext=ticktext,
                tickangle=90, ticks="outside", ticklen=5, tickwidth=1.5, tickcolor="#222",
                tickfont=dict(family=FONT, size=14, color="#333"), **box_line),
    yaxis2=dict(domain=ydom(BOX_LR05[1], BOX_LR05[3]), range=[2.603, 5.286], anchor="x2", side="right",
                tickvals=[3, 3.5, 4, 4.5, 5], ticks="outside", ticklen=7, tickwidth=2.5, tickcolor="#222",
                tickfont=yfont, **box_line),
    xaxis3=dict(domain=xdom(BOX_LR07[0], BOX_LR07[2]), range=[px2age(BOX_LR07[0]), px2age(BOX_LR07[2])],
                anchor="y3", showticklabels=False, ticks="", **box_line),
    yaxis3=dict(domain=ydom(BOX_LR07[1], BOX_LR07[3]), range=[98.5, 0], anchor="x3", side="right",
                tickvals=[0, 20, 40, 60, 80], ticks="outside", ticklen=5, tickwidth=2, tickcolor="#222",
                tickfont=yfont, showline=True, mirror=True, linecolor="#222", linewidth=2, zeroline=False,
                showgrid=True, gridcolor="#c4c4c4", griddash="dot"),
    xaxis4=dict(domain=xdom(BOX_MIL[0], BOX_MIL[2]), range=[px2age(BOX_MIL[0]), px2age(BOX_MIL[2])],
                anchor="y4", showticklabels=False, ticks="", **box_line),
    yaxis4=dict(domain=ydom(BOX_MIL[1], BOX_MIL[3]), range=[29.5, -130.5], anchor="x4", side="right",
                tickvals=[-130, -80, -30, 20], ticks="", tickfont=yfont,
                showline=True, mirror=True, linecolor="#222", linewidth=2,
                zeroline=True, zerolinecolor="#222", zerolinewidth=2,
                showgrid=True, gridcolor="#c4c4c4", griddash="dot"),
    xaxis5=dict(domain=xdom(BOX_ROH[0], BOX_ROH[2]), range=[px2age(BOX_ROH[0]), px2age(BOX_ROH[2])],
                anchor="y5", showticklabels=False, ticks="", **box_line),
    yaxis5=dict(domain=ydom(BOX_ROH[1], BOX_ROH[3]), range=[72.7, -178.4], anchor="x5", side="right",
                tickvals=[-150, -100, -50, 0, 50], ticktext=["-150", "-100", "-50", "0", "50"],
                ticks="outside", ticklen=6, tickwidth=2, tickcolor="#222", tickfont=yfont,
                showline=True, mirror=True, linecolor="#222", linewidth=2,
                zeroline=True, zerolinecolor="#222", zerolinewidth=2,
                showgrid=True, gridcolor="#c4c4c4", griddash="dot"),
    xaxis6=dict(domain=xdom(BOX_DK[0], BOX_DK[2]), range=DK_RANGE, anchor="y6", side="top",
                tickvals=[360, 320, 280, 240, 200, 160, 120, 80, 40, 0], tickangle=90, ticks="outside",
                ticklen=4, tickcolor="#222", tickfont=dict(family=FONT, size=8, color="#333"), **box_line),
    yaxis6=dict(domain=ydom(BOX_DK[1], BOX_DK[3]), range=[-1, 4], anchor="x6", side="right",
                tickvals=[-1, 0, 1, 2, 3, 4], ticks="outside", ticklen=6, tickwidth=2, tickcolor="#222",
                tickfont=dict(family=FONT, size=10, color="#222", weight="bold"), **box_line),
    xaxis7=dict(domain=[0, 1], range=MASTER_XR, anchor="y7", visible=False),
    yaxis7=dict(domain=ydom(137, 162), range=[0, 1], anchor="x7", visible=False),
    shapes=shapes,
    annotations=ann,
)
fig.update_layout(**layout)
fig.write_html("out.html", config={"displayModeBar": False},
               post_script="document.body.style.margin='0px';document.body.style.overflow='hidden';")
